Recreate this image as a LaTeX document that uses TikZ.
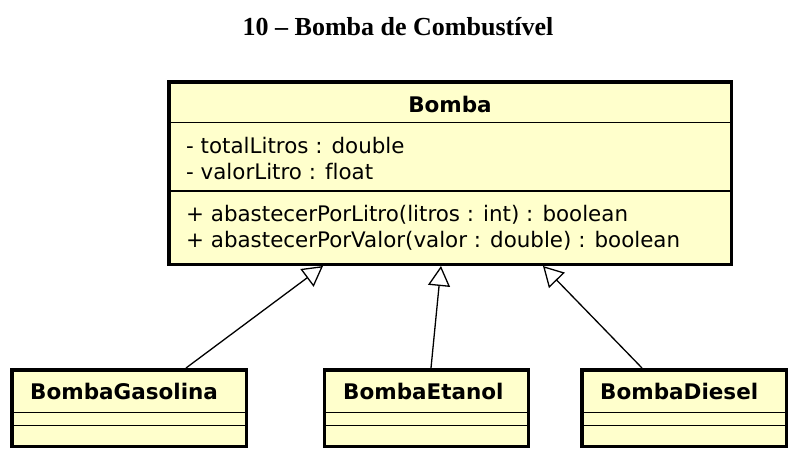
\documentclass[tikz,border=0pt]{standalone}
\usepackage{fontspec}
\setmainfont{DejaVu Sans}[Ligatures=NoCommon]
\newfontfamily\titlefont{Liberation Serif}
\usepackage{tikz}
\usetikzlibrary{arrows.meta, positioning, calc}
\definecolor{umlyellow}{HTML}{FFFFCC}

\begin{document}
\begin{tikzpicture}[x=1pt, y=-1pt,
      umlclass/.style={draw, line width=3.5pt, fill=umlyellow, inner sep=0pt},
      umldivider/.style={line width=1.3pt},
      umlname/.style={inner sep=0pt, font=\bfseries\fontsize{21.5}{25}\selectfont},
      umlmember/.style={anchor=base west, inner sep=0pt, font=\fontsize{21.4}{25}\selectfont},
      herda/.style={-{Triangle[open, length=20pt, width=22pt]}, line width=1.3pt}
    ]
      \fill[white] (0,0) rectangle (796,461);
      \node[anchor=base, inner sep=0pt, font=\titlefont\bfseries\fontsize{26}{30}\selectfont] (titulo) at (398,35) {10 – Bomba de Combustível};

      % superclasse
      \node[umlclass, minimum width=562.5, minimum height=182.5] (bomba) at (450,173) {};
      \draw[umldivider] (bomba.west |- 0,122.5) -- (bomba.east |- 0,122.5);
      \draw[umldivider] (bomba.west |- 0,191) -- (bomba.east |- 0,191);
      \node[umlname, anchor=base] (bombanome) at (450,112) {Bomba};
      \node[umlmember] (totallitros) at (186,153) {- totalLitros : double};
      \node[umlmember] (valorlitro) at (186,179) {- valorLitro : float};
      \node[umlmember] (porlitro) at (186,221) {+ abastecerPorLitro(litros : int) : boolean};
      \node[umlmember] (porvalor) at (186,247) {+ abastecerPorValor(valor : double) : boolean};

      % subclasses
      \node[umlclass, minimum width=234.5, minimum height=76.5] (gasolina) at (129,408) {};
      \node[umlclass, minimum width=204, minimum height=76.5] (etanol) at (426.5,408) {};
      \node[umlclass, minimum width=204.5, minimum height=76.5] (diesel) at (684,408) {};
      \foreach \cls in {gasolina, etanol, diesel} {
        \draw[umldivider] (\cls.west |- 0,412.5) -- (\cls.east |- 0,412.5);
        \draw[umldivider] (\cls.west |- 0,425.5) -- (\cls.east |- 0,425.5);
      }
      \node[umlname, anchor=base west] (gasolinanome) at (30,399) {BombaGasolina};
      \node[umlname, anchor=base west] (etanolnome) at (343,399) {BombaEtanol};
      \node[umlname, anchor=base west] (dieselnome) at (600,399) {BombaDiesel};

      \draw[herda] ($(gasolina.north)+(57,0)$) -- ($(bomba.south)+(-127,0)$);
      \draw[herda] ($(etanol.north)+(4.5,0)$) -- ($(bomba.south)+(-9,0)$);
      \draw[herda] ($(diesel.north)+(-42,0)$) -- ($(bomba.south)+(93,0)$);
    \end{tikzpicture}
\end{document}
